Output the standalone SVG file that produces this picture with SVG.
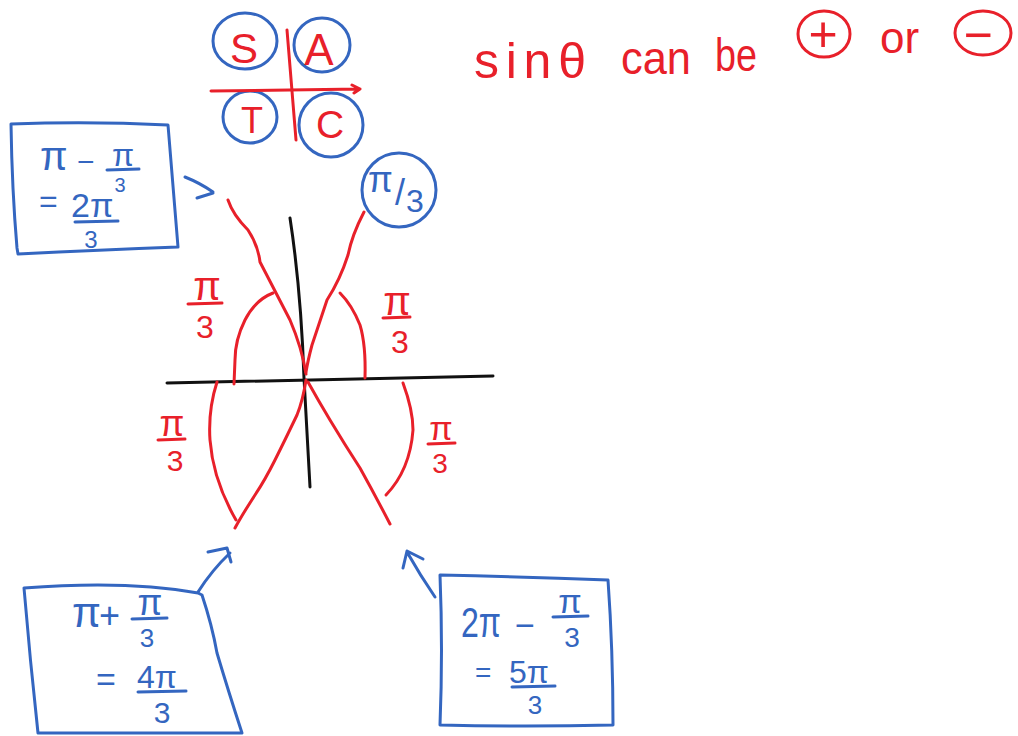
<svg xmlns="http://www.w3.org/2000/svg" width="1018" height="736" viewBox="0 0 1018 736">
<style>
.r{fill:none;stroke:#e8202a;stroke-width:3;stroke-linecap:round;stroke-linejoin:round}
.b{fill:none;stroke:#3466c0;stroke-width:3;stroke-linecap:round;stroke-linejoin:round}
.k{fill:none;stroke:#111;stroke-width:3;stroke-linecap:round}
.tr{fill:#e8202a;font-family:"Liberation Sans",Arial,sans-serif}
.tb{fill:#3466c0;font-family:"Liberation Sans",Arial,sans-serif}
.m{text-anchor:middle}
</style>
<rect width="1018" height="736" fill="#fff"/>

<g id="satc">
  <ellipse class="b" cx="245" cy="41" rx="32" ry="28"/>
  <ellipse class="b" cx="322" cy="45" rx="28" ry="27"/>
  <ellipse class="b" cx="250" cy="117" rx="27" ry="26"/>
  <ellipse class="b" cx="331" cy="125" rx="32" ry="32"/>
  <path class="r" d="M287,30 L296,140"/>
  <path class="r" d="M211,91 L360,89 M352,85 L360,89 L354,93"/>
  <text class="tr m" x="244" y="63" font-size="42">S</text>
  <text class="tr m" x="319" y="65" font-size="44">A</text>
  <text class="tr m" x="252" y="133" font-size="36">T</text>
  <text class="tr m" x="330" y="138" font-size="39">C</text>
</g>

<g id="note">
  <text class="tr" x="474" y="78" font-size="50" textLength="112" lengthAdjust="spacing">sinθ</text>
  <text class="tr" x="621" y="74" font-size="46" textLength="70" lengthAdjust="spacingAndGlyphs">can</text>
  <text class="tr" x="715" y="71" font-size="46" textLength="42" lengthAdjust="spacingAndGlyphs">be</text>
  <ellipse class="r" cx="824" cy="34" rx="26" ry="23"/>
  <text class="tr m" x="823" y="51" font-size="50">+</text>
  <text class="tr" x="880" y="53" font-size="44">or</text>
  <ellipse class="r" cx="983" cy="33" rx="28" ry="22"/>
  <text class="tr m" x="978" y="52" font-size="50">−</text>
</g>

<g id="axes">
  <path class="k" d="M290,218 Q301,290 304,378 L310,487"/>
  <path class="k" d="M167,383 L493,376"/>
</g>

<g id="angles">
  <path class="r" d="M228,200 Q233,215 248,230 Q258,245 260,262 Q272,285 290,320 Q302,348 306,374"/>
  <path class="r" d="M364,212 Q352,235 348,255 Q340,280 327,300 Q317,330 312,345 Q308,360 306,372"/>
  <path class="r" d="M306,380 Q303,400 297,415 Q285,440 275,460 Q265,480 255,495 Q242,515 235,528"/>
  <path class="r" d="M308,382 Q318,400 330,420 Q345,445 360,468 Q375,495 390,524"/>
  <path class="r" d="M273,293 Q255,300 245,320 Q235,340 235,360 L234,384"/>
  <path class="r" d="M340,293 Q352,305 360,325 Q366,345 365,378"/>
  <path class="r" d="M217,382 Q208,410 210,440 Q213,480 236,520"/>
  <path class="r" d="M403,383 Q413,410 413,430 Q410,470 386,495"/>
</g>

<g id="label-ul">
  <text class="tr m" x="207" y="300" font-size="40">π</text>
  <path class="r" d="M188,304 L222,303"/>
  <text class="tr m" x="205" y="338" font-size="32">3</text>
</g>
<g id="label-ur">
  <text class="tr m" x="397" y="315" font-size="40">π</text>
  <path class="r" d="M383,318 L410,317"/>
  <text class="tr m" x="400" y="353" font-size="32">3</text>
</g>
<g id="label-ll">
  <text class="tr m" x="172" y="436" font-size="36">π</text>
  <path class="r" d="M158,440 L185,439"/>
  <text class="tr m" x="175" y="471" font-size="30">3</text>
</g>
<g id="label-lr">
  <text class="tr m" x="441" y="440" font-size="34">π</text>
  <path class="r" d="M428,444 L455,443"/>
  <text class="tr m" x="440" y="473" font-size="28">3</text>
</g>

<g id="ref-angle">
  <ellipse class="b" cx="399" cy="190" rx="37" ry="37"/>
  <text class="tb"><tspan x="368" y="192" font-size="36">π</tspan><tspan x="395" y="205" font-size="36">/</tspan><tspan x="406" y="212" font-size="32">3</tspan></text>
</g>

<g id="box-2pi3">
  <path class="b" d="M11,124 Q90,121 168,125 L178,247 Q100,250 18,254 L17,248 Q12,190 11,124 Z"/>
  <text class="tb"><tspan x="40" y="170" font-size="40">π</tspan><tspan x="77" y="172" font-size="30">−</tspan></text>
  <text class="tb m" x="123" y="166" font-size="32">π</text>
  <path class="b" d="M107,170 L139,169"/>
  <text class="tb m" x="120" y="192" font-size="20">3</text>
  <text class="tb"><tspan x="39" y="212" font-size="32">=</tspan><tspan x="71" y="217" font-size="34">2π</tspan></text>
  <path class="b" d="M75,222 L118,221"/>
  <text class="tb m" x="91" y="248" font-size="24">3</text>
</g>

<g id="box-4pi3">
  <path class="b" d="M24,588 Q127,580 198,593 L202,595 Q212,625 217,653 Q228,690 242,733 L38,733 Q30,660 24,588 Z"/>
  <text class="tb"><tspan x="72" y="627" font-size="42">π</tspan><tspan x="99" y="628" font-size="36">+</tspan></text>
  <text class="tb m" x="150" y="615" font-size="36">π</text>
  <path class="b" d="M132,619 L167,618"/>
  <text class="tb m" x="147" y="647" font-size="26">3</text>
  <text class="tb"><tspan x="96" y="691" font-size="34">=</tspan><tspan x="137" y="688" font-size="32">4π</tspan></text>
  <path class="b" d="M138,692 L186,691"/>
  <text class="tb m" x="162" y="723" font-size="30">3</text>
</g>

<g id="box-5pi3">
  <path class="b" d="M440,575 Q525,577 608,580 Q613,650 613,725 Q525,727 440,725 Q443,650 440,575 Z"/>
  <text class="tb"><tspan x="461" y="637" font-size="42" textLength="40" lengthAdjust="spacingAndGlyphs">2π</tspan><tspan x="515" y="637" font-size="34">−</tspan></text>
  <text class="tb m" x="570" y="613" font-size="34">π</text>
  <path class="b" d="M553,617 L588,616"/>
  <text class="tb m" x="572" y="647" font-size="28">3</text>
  <text class="tb"><tspan x="475" y="682" font-size="28">=</tspan><tspan x="509" y="683" font-size="32">5π</tspan></text>
  <path class="b" d="M512,687 L555,686"/>
  <text class="tb m" x="535" y="714" font-size="26">3</text>
</g>

<g id="connectors">
  <path class="b" d="M185,177 Q200,183 213,192 M197,198 L213,193"/>
  <path class="b" d="M198,592 Q212,570 230,553 M208,552 L227,548 L231,562"/>
  <path class="b" d="M435,597 Q420,575 407,552 M403,568 L407,551 L423,559"/>
</g>
</svg>
